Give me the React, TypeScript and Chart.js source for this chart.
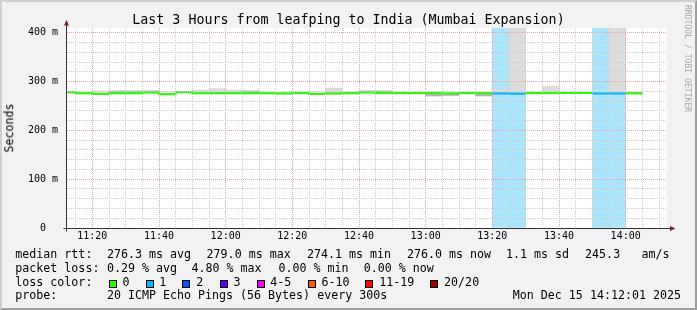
import { useEffect, useRef } from 'react';
import { Chart, registerables } from 'chart.js';

Chart.register(...registerables);

// ---------------- data ----------------
const titleText = 'Last 3 Hours from leafping to India (Mumbai Expansion)';
const yAxisTitle = 'Seconds';
const watermark = 'RRDTOOL / TOBI OETIKER';

const viewStart = '11:12:24';
const viewEnd = '14:12:24';
const stepEnd = '14:05';

const stepStarts = [
  '11:10', '11:15', '11:20', '11:25', '11:30', '11:35', '11:40', '11:45', '11:50', '11:55',
  '12:00', '12:05', '12:10', '12:15', '12:20', '12:25', '12:30', '12:35', '12:40', '12:45',
  '12:50', '12:55', '13:00', '13:05', '13:10', '13:15', '13:20', '13:25', '13:30', '13:35',
  '13:40', '13:45', '13:50', '13:55', '14:00',
];

const medianMs = [
  278.5, 276.0, 274.5, 276.0, 276.0, 278.0, 274.1, 279.0, 276.0, 276.0,
  276.0, 276.0, 276.0, 275.5, 276.5, 274.5, 275.5, 276.0, 278.0, 277.0,
  276.5, 276.5, 277.0, 275.5, 276.5, 276.0, 275.5, 275.0, 276.5, 276.5,
  276.5, 276.5, 275.5, 275.5, 276.0,
];

const lostPings = [
  0, 0, 0, 0, 0, 0, 0, 0, 0, 0,
  0, 0, 0, 0, 0, 0, 0, 0, 0, 0,
  0, 0, 0, 0, 0, 0, 1, 1, 0, 0,
  0, 0, 1, 1, 0,
];

const smokeLow = [
  276.5, 275.0, 273.5, 275.0, 275.0, 276.5, 273.0, 277.0, 275.0, 275.0,
  275.0, 275.0, 275.0, 274.5, 275.5, 273.5, 274.5, 275.0, 277.0, 276.0,
  275.5, 275.5, 270.0, 271.0, 275.0, 270.5, 274.5, 274.0, 275.5, 275.5,
  275.5, 275.5, 274.5, 275.0, 275.0,
];

const smokeHigh = [
  280.0, 279.0, 281.0, 281.0, 281.0, 281.0, 277.0, 280.5, 283.0, 286.0,
  283.0, 281.0, 279.0, 278.0, 278.5, 277.0, 287.0, 278.0, 281.0, 281.0,
  278.5, 278.5, 279.0, 277.5, 278.5, 278.0, 284.0, 430.0, 278.5, 291.0,
  278.5, 278.5, 278.0, 430.0, 278.0,
];

const coreLow = [
  278.0, 275.5, 274.0, 275.5, 275.5, 277.5, 273.6, 278.5, 275.5, 275.5,
  275.5, 275.5, 275.5, 275.0, 276.0, 274.0, 275.0, 275.5, 277.5, 276.5,
  276.0, 276.0, 271.0, 272.0, 276.0, 271.0, 275.0, 274.5, 276.0, 276.0,
  276.0, 276.0, 275.0, 275.0, 275.5,
];

const coreHigh = [
  279.5, 277.5, 276.0, 281.0, 281.0, 281.0, 275.5, 280.0, 277.5, 278.0,
  277.5, 281.0, 277.5, 277.0, 278.0, 276.0, 277.0, 277.5, 281.0, 281.0,
  278.0, 278.0, 278.5, 277.0, 278.0, 277.5, 277.0, 277.0, 278.0, 278.0,
  278.0, 278.0, 277.0, 277.0, 277.5,
];

const yTickValues = [0, 20, 40, 60, 80, 100, 120, 140, 160, 180, 200, 220, 240, 260, 280, 300, 320, 340, 360, 380, 400];
const yMax = 410;

const xTickTimes = [
  '11:15', '11:20', '11:25', '11:30', '11:35', '11:40', '11:45', '11:50', '11:55',
  '12:00', '12:05', '12:10', '12:15', '12:20', '12:25', '12:30', '12:35', '12:40', '12:45',
  '12:50', '12:55', '13:00', '13:05', '13:10', '13:15', '13:20', '13:25', '13:30', '13:35',
  '13:40', '13:45', '13:50', '13:55', '14:00', '14:05', '14:10',
];

const lossBuckets = ['0', '1', '2', '3', '4-5', '6-10', '11-19', '20/20'];
const lossColors = ['#26ff00', '#00b8ff', '#0059ff', '#5e00ff', '#ff00ff', '#ff5500', '#ff0000', '#a10000'];
const lossBackground = '#aae5fb';

const rttStats = ['276.3 ms avg', '279.0 ms max', '274.1 ms min', '276.0 ms now', '1.1 ms sd', '245.3', 'am/s'];
const lossStats = ['0.29 % avg', '4.80 % max', '0.00 % min', '0.00 % now'];
const probeText = '20 ICMP Echo Pings (56 Bytes) every 300s';
const dateText = 'Mon Dec 15 14:12:01 2025';

// ---------------- helpers ----------------
const MONO = '"DejaVu Sans Mono", monospace';
const STEP = 5;

const toMin = (s: string) => {
  const [h, m, sec] = s.split(':').map(Number);
  return h * 60 + m + (sec || 0) / 60;
};
const fmtTime = (v: number) => {
  const h = Math.floor(v / 60);
  const m = Math.round(v - h * 60);
  return `${h}:${String(m).padStart(2, '0')}`;
};
const lossColorFor = (lost: number) => {
  if (lost <= 0) return lossColors[0];
  if (lost === 1) return lossColors[1];
  if (lost === 2) return lossColors[2];
  if (lost === 3) return lossColors[3];
  if (lost <= 5) return lossColors[4];
  if (lost <= 10) return lossColors[5];
  if (lost <= 19) return lossColors[6];
  return lossColors[7];
};

const MINOR = '#cdcdcd';
const MAJOR = '#eba3a3';

const frameAndAxes = {
  id: 'frameAndAxes',
  beforeDraw(chart: any) {
    const { ctx, chartArea } = chart;
    ctx.save();
    ctx.fillStyle = '#ffffff';
    ctx.fillRect(chartArea.left, chartArea.top, chartArea.right - chartArea.left, chartArea.bottom - chartArea.top);
    ctx.restore();
  },
  afterDraw(chart: any) {
    const { ctx, chartArea } = chart;
    const x0 = chartArea.left - 0.5;
    const y0 = chartArea.bottom + 0.5;
    ctx.save();
    ctx.strokeStyle = '#333333';
    ctx.lineWidth = 1;
    ctx.beginPath();
    ctx.moveTo(x0, y0 + 3);
    ctx.lineTo(x0, chartArea.top - 3);
    ctx.moveTo(x0 - 3, y0);
    ctx.lineTo(chartArea.right + 4, y0);
    ctx.stroke();
    ctx.fillStyle = '#7f1f1f';
    ctx.beginPath();
    ctx.moveTo(x0 - 2.5, chartArea.top - 2.5);
    ctx.lineTo(x0 + 2.5, chartArea.top - 2.5);
    ctx.lineTo(x0, chartArea.top - 8);
    ctx.closePath();
    ctx.fill();
    ctx.beginPath();
    ctx.moveTo(chartArea.right + 3, y0 - 2.5);
    ctx.lineTo(chartArea.right + 3, y0 + 2.5);
    ctx.lineTo(chartArea.right + 8.5, y0);
    ctx.closePath();
    ctx.fill();
    ctx.restore();
  },
};

export default function App() {
  const ref = useRef<HTMLCanvasElement>(null);

  useEffect(() => {
    const starts = stepStarts.map(toMin);
    const centers = starts.map((s) => s + STEP / 2);

    const medianData = starts.map((s, i) => ({ x: s, y: medianMs[i] }));
    medianData.push({ x: toMin(stepEnd), y: medianMs[medianMs.length - 1] });

    const lossData = centers
      .map((c, i) => (lostPings[i] > 0 ? { x: c, y: [0, yMax] } : null))
      .filter((d) => d !== null);

    const barCommon = {
      type: 'bar' as const,
      grouped: false,
      barPercentage: 1,
      categoryPercentage: 1,
      borderWidth: 0,
      clip: 0,
    };

    const chart = new Chart(ref.current as HTMLCanvasElement, {
      type: 'bar',
      data: {
        datasets: [
          {
            type: 'line',
            label: 'median',
            data: medianData,
            stepped: 'before',
            borderWidth: 2,
            borderColor: lossColors[0],
            pointRadius: 0,
            clip: 0,
            order: 0,
            segment: {
              borderColor: (c: any) => lossColorFor(lostPings[Math.min(c.p0DataIndex, lostPings.length - 1)]),
            },
          } as any,
          {
            ...barCommon,
            label: 'smoke core',
            data: centers.map((c, i) => ({ x: c, y: [coreLow[i], coreHigh[i]] })),
            backgroundColor: '#b5b5b5',
            order: 1,
          } as any,
          {
            ...barCommon,
            label: 'smoke',
            data: centers.map((c, i) => ({ x: c, y: [smokeLow[i], smokeHigh[i]] })),
            backgroundColor: '#dcdcdc',
            order: 2,
          } as any,
          {
            ...barCommon,
            label: 'loss',
            data: lossData,
            backgroundColor: lossBackground,
            order: 3,
          } as any,
        ],
      },
      options: {
        animation: false,
        responsive: false,
        devicePixelRatio: 1,
        layout: { padding: { left: 0, right: 30, top: 28, bottom: 62 } },
        plugins: {
          legend: { display: false },
          tooltip: { enabled: false },
          title: { display: false },
        },
        scales: {
          x: {
            type: 'linear',
            min: toMin(viewStart),
            max: toMin(viewEnd),
            offset: false,
            grid: {
              offset: false,
              drawTicks: false,
              lineWidth: 1,
              z: 1,
              color: (c: any) => (c.tick && c.tick.value % 20 === 0 ? MAJOR : MINOR),
            },
            border: { display: false, dash: [1, 1] },
            ticks: {
              autoSkip: false,
              maxRotation: 0,
              minRotation: 0,
              padding: 2,
              color: '#000000',
              font: { family: MONO, size: 10 },
              callback: (v: any) => (Number(v) % 20 === 0 ? fmtTime(Number(v)) : ''),
            },
            afterBuildTicks: (s: any) => {
              s.ticks = xTickTimes.map((t) => ({ value: toMin(t) }));
            },
            afterFit: (s: any) => {
              s.height = 20;
            },
          },
          y: {
            type: 'linear',
            min: 0,
            max: yMax,
            grid: {
              drawTicks: false,
              lineWidth: 1,
              z: 1,
              color: (c: any) => (c.tick && c.tick.value % 100 === 0 ? MAJOR : MINOR),
            },
            border: { display: false, dash: [1, 1] },
            ticks: {
              autoSkip: false,
              padding: 9,
              color: '#000000',
              font: { family: MONO, size: 10 },
              callback: (v: any) => {
                const n = Number(v);
                if (n % 100 !== 0) return '';
                return n === 0 ? '0  ' : `${n} m`;
              },
            },
            afterBuildTicks: (s: any) => {
              s.ticks = yTickValues.map((v) => ({ value: v }));
            },
            afterFit: (s: any) => {
              s.width = 67;
            },
          },
        },
      },
      plugins: [frameAndAxes],
    } as any);

    return () => {
      chart.destroy();
    };
  }, []);

  const legendFont = 11.65;
  const legendBase = 0.846 * legendFont;
  const rowBaselines = [259, 272.7, 286.4, 300];
  const rowTop = (i: number) => rowBaselines[i] - legendBase;

  const textStyle = (left: number, top: number): any => ({
    position: 'absolute',
    left,
    top,
    fontFamily: MONO,
    fontSize: legendFont,
    lineHeight: `${legendFont}px`,
    whiteSpace: 'pre',
    color: '#000',
  });

  const rttLefts = [107.6, 207.3, 307.6, 407.6, 506.7, 585.8, 642.2];
  const lossLefts = [107.6, 192.2, 279.2, 364.4];
  const boxLefts = [108.6, 145.5, 182.4, 219.6, 256.5, 307.6, 365.4, 430.3];

  return (
    <div
      style={{
        position: 'fixed',
        left: 0,
        top: 0,
        width: 697,
        height: 310,
        background: '#f2f2f2',
        overflow: 'hidden',
      }}
    >
      <canvas
        ref={ref}
        width={697}
        height={310}
        style={{ position: 'absolute', left: 0, top: 0, width: 697, height: 310 }}
      />
      <div
        style={{
          position: 'absolute',
          left: 0,
          width: 697,
          top: 24 - 0.846 * 13.3,
          textAlign: 'center',
          fontFamily: MONO,
          fontSize: 13.3,
          lineHeight: '13.3px',
          whiteSpace: 'pre',
          color: '#000',
        }}
      >
        {titleText}
      </div>
      <div
        style={{
          position: 'absolute',
          left: 10,
          top: 128,
          transform: 'translate(-50%, -50%) rotate(-90deg)',
          fontFamily: MONO,
          fontSize: legendFont,
          lineHeight: `${legendFont}px`,
          whiteSpace: 'pre',
          color: '#000',
        }}
      >
        {yAxisTitle}
      </div>
      <div
        style={{
          position: 'absolute',
          left: 683.5,
          top: 5,
          width: 8,
          writingMode: 'vertical-rl',
          fontFamily: MONO,
          fontSize: 8.1,
          lineHeight: '8px',
          whiteSpace: 'pre',
          color: '#a8a8a8',
        }}
      >
        {watermark}
      </div>

      <div style={textStyle(15.3, rowTop(0))}>median rtt:</div>
      {rttStats.map((t, i) => (
        <div key={'r' + i} style={textStyle(rttLefts[i] - 0.7, rowTop(0))}>
          {t}
        </div>
      ))}

      <div style={textStyle(15.3, rowTop(1))}>packet loss:</div>
      {lossStats.map((t, i) => (
        <div key={'l' + i} style={textStyle(lossLefts[i] - 0.7, rowTop(1))}>
          {t}
        </div>
      ))}

      <div style={textStyle(15.3, rowTop(2))}>loss color:</div>
      {lossBuckets.map((b, i) => (
        <div key={'b' + i}>
          <div
            style={{
              position: 'absolute',
              left: boxLefts[i],
              top: 279.5,
              width: 8,
              height: 8,
              boxSizing: 'border-box',
              border: '1px solid #000',
              background: lossColors[i],
            }}
          />
          <div style={textStyle(boxLefts[i] + 14.5 - 0.7, rowTop(2))}>{b}</div>
        </div>
      ))}

      <div style={textStyle(15.3, rowTop(3))}>probe:</div>
      <div style={textStyle(107.6 - 0.7, rowTop(3))}>{probeText}</div>
      <div style={{ ...textStyle(0, rowTop(3)), left: 'auto', right: 16 }}>{dateText}</div>

      <div
        style={{
          position: 'absolute',
          left: 0,
          top: 0,
          width: 697,
          height: 310,
          boxSizing: 'border-box',
          borderStyle: 'solid',
          borderWidth: 2,
          borderColor: '#cfcfcf #9e9e9e #9e9e9e #cfcfcf',
          pointerEvents: 'none',
        }}
      />
    </div>
  );
}
